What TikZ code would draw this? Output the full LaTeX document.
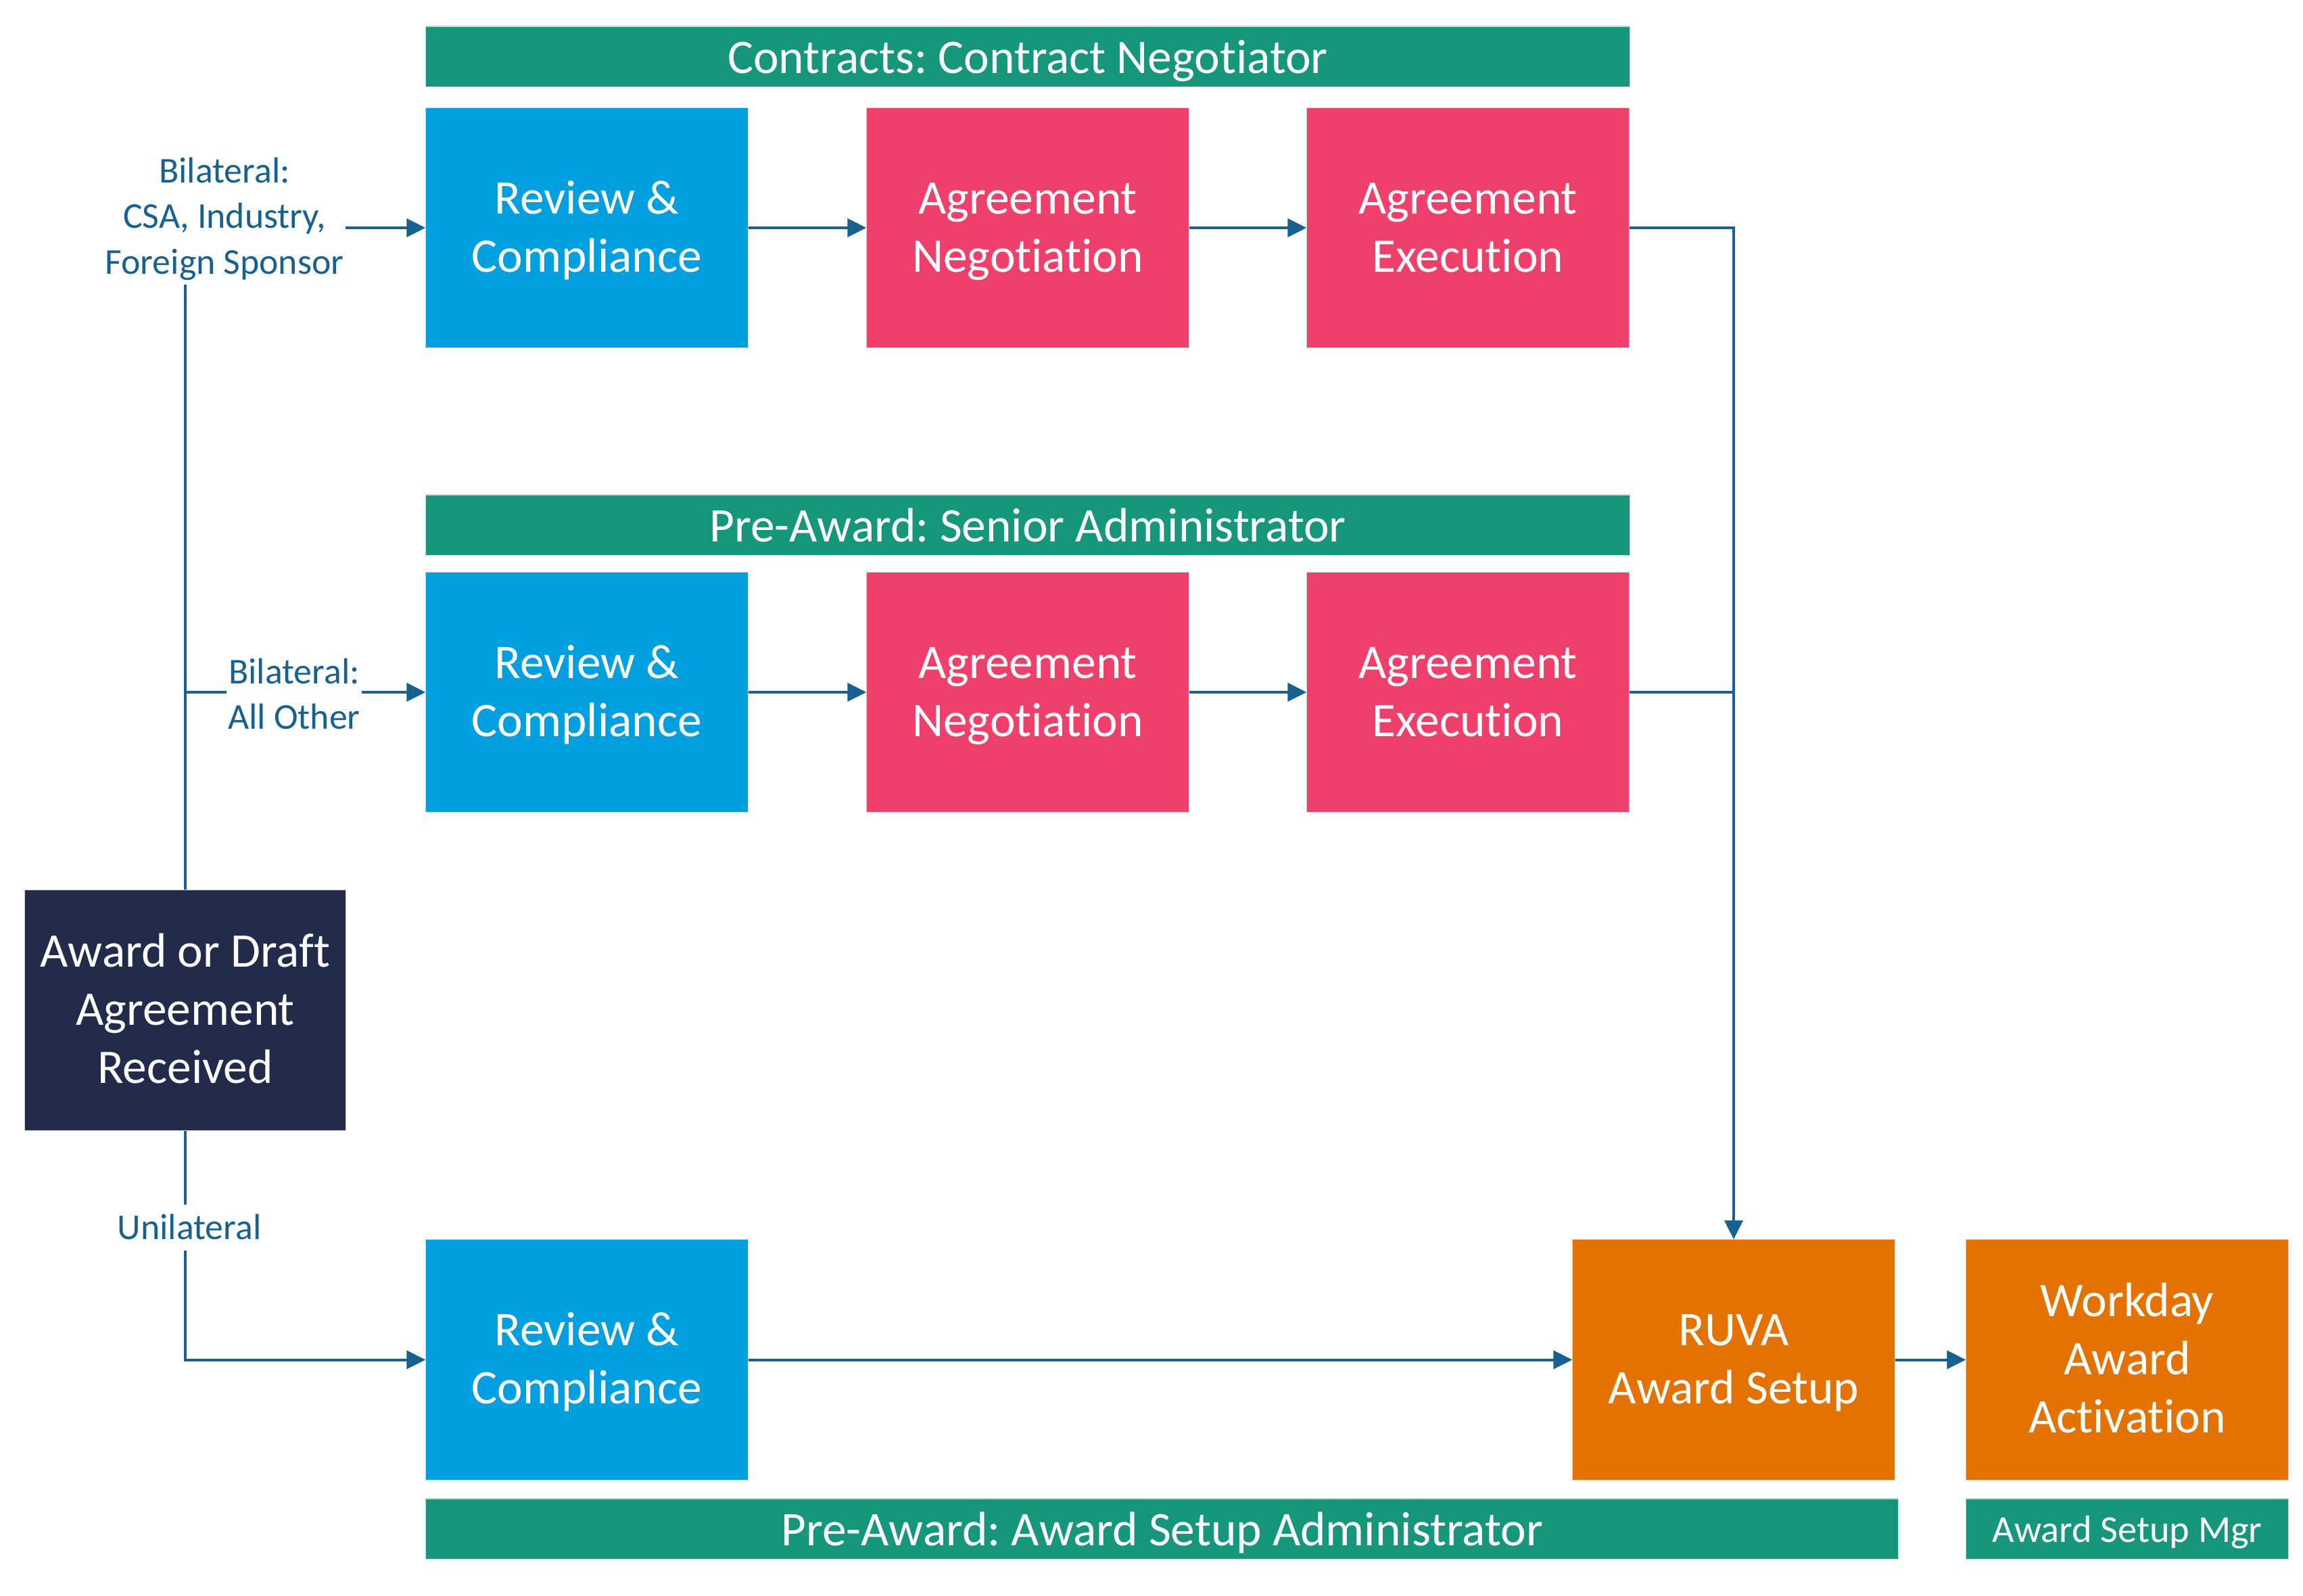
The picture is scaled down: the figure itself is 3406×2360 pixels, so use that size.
\documentclass[tikz,border=0pt]{standalone}
\usepackage{fontspec}
\setmainfont{Carlito}[Ligatures=NoCommon]
\frenchspacing
\usetikzlibrary{arrows.meta}
\definecolor{hdrgreen}{RGB}{22,150,122}
\definecolor{revblue}{RGB}{0,160,224}
\definecolor{agpink}{RGB}{238,64,107}
\definecolor{setorange}{RGB}{227,114,0}
\definecolor{navy}{RGB}{35,43,74}
\definecolor{linkblue}{RGB}{22,96,146}
\newcommand\bxs{\rule[-0.29em]{0pt}{1.2em}}
\newcommand\hds{\rule[-0.25em]{0pt}{1.2em}}
\newcommand\lbs{\rule[-0.29em]{0pt}{1.2em}}
\tikzset{
  boxcore/.style={inner sep=0pt, draw=gray!35, line width=0.3pt, text=white, align=center,
    font=\fontsize{20.3}{24.5}\selectfont},
  stepbox/.style={boxcore, minimum width=4.76cm, minimum height=3.55cm},
  revbox/.style={stepbox, fill=revblue},
  agbox/.style={stepbox, fill=agpink},
  setbox/.style={stepbox, fill=setorange},
  startbox/.style={boxcore, fill=navy, minimum width=4.74cm, minimum height=3.55cm},
  hdrbar/.style={boxcore, fill=hdrgreen, minimum height=0.89cm, execute at begin node=\hds, execute at end node=\hds},
  lbl/.style={text=linkblue, align=center, inner xsep=0.02cm, inner ysep=0cm,
    font=\fontsize{15.3}{19.1}\selectfont, execute at begin node=\lbs, execute at end node=\lbs},
  link/.style={draw=linkblue, line width=0.04cm},
  arr/.style={link, -{Triangle[length=0.28cm, width=0.27cm]}}
}
\begin{document}
\begin{tikzpicture}[x=0.01cm, y=-0.01cm]
\useasboundingbox (0,0) rectangle (3406,2360);
% headers
\node[hdrbar, minimum width=17.80cm] (h1) at (1520,83.5) {Contracts: Contract Negotiator};
\node[hdrbar, minimum width=17.80cm] (h2) at (1520,776.5) {Pre-Award: Senior Administrator};
\node[hdrbar, minimum width=21.77cm] (h3) at (1718.5,2261.5) {Pre-Award: Award Setup Administrator};
\node[hdrbar, minimum width=4.76cm, font=\fontsize{16}{19}\selectfont] (h4) at (3146,2261.5) {Award Setup Mgr};
% row 1
\node[revbox] (r1) at (868,337) {\bxs Review \&\\Compliance\bxs};
\node[agbox] (n1) at (1520,337) {\bxs Agreement\\Negotiation\bxs};
\node[agbox] (e1) at (2171,337) {\bxs Agreement\\Execution\bxs};
% row 2
\node[revbox] (r2) at (868,1024) {\bxs Review \&\\Compliance\bxs};
\node[agbox] (n2) at (1520,1024) {\bxs Agreement\\Negotiation\bxs};
\node[agbox] (e2) at (2171,1024) {\bxs Agreement\\Execution\bxs};
% row 3
\node[revbox] (r3) at (868,2011.5) {\bxs Review \&\\Compliance\bxs};
\node[setbox] (ruva) at (2564,2011.5) {\bxs RUVA\\Award Setup\bxs};
\node[setbox] (wd) at (3146,2011.5) {\bxs Workday\\Award\\Activation\bxs};
% start
\node[startbox] (award) at (274,1494.5) {\bxs Award or Draft\\Agreement\\Received\bxs};
% labels
\node[lbl] (lab1) at (332,327) {Bilateral:\\CSA, Industry,\\Foreign Sponsor};
\node[lbl] (lab2) at (435,1034.5) {Bilateral:\\All Other};
\node[lbl, inner ysep=0.01cm] (lab3) at (280,1816.4) {Unilateral};
% connectors
\draw[link] (award.north) -- (award.north |- lab1.south);
\draw[arr] (lab1.east |- r1.west) -- (r1.west);
\draw[link] (award.north |- r2.west) -- (lab2.west |- r2.west);
\draw[arr] (lab2.east |- r2.west) -- (r2.west);
\draw[link] (award.south) -- (award.south |- lab3.north);
\draw[arr] (award.south |- lab3.south) |- (r3.west);
\draw[arr] (r1.east) -- (n1.west);
\draw[arr] (n1.east) -- (e1.west);
\draw[arr] (r2.east) -- (n2.west);
\draw[arr] (n2.east) -- (e2.west);
\draw[arr] (e1.east) -| (ruva.north);
\draw[link] (e2.east) -- (e2.east -| ruva.north);
\draw[arr] (r3.east) -- (ruva.west);
\draw[arr] (ruva.east) -- (wd.west);
\end{tikzpicture}
\end{document}
